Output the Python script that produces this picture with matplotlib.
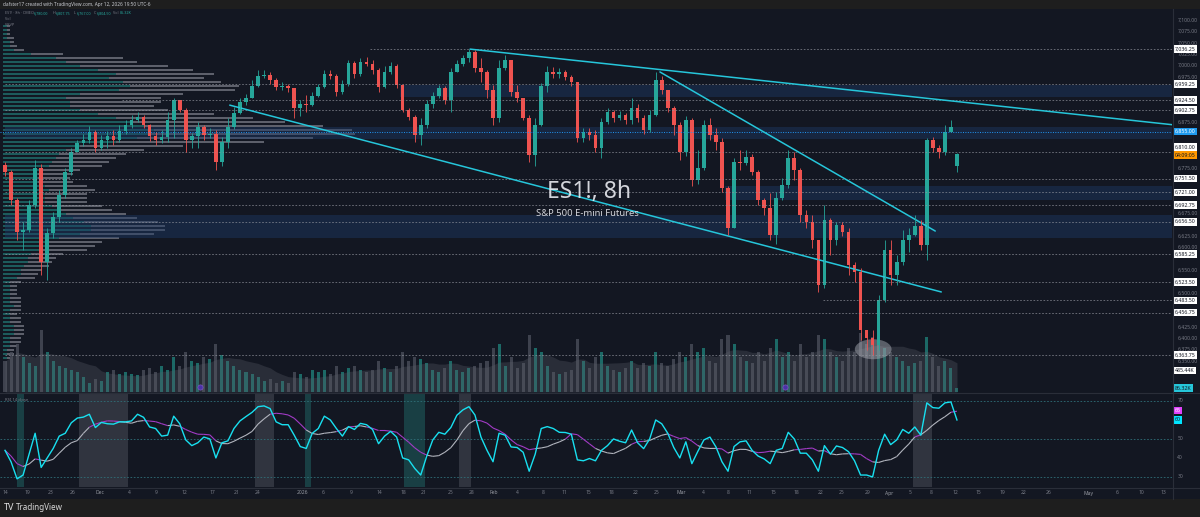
import numpy as np
import matplotlib.pyplot as plt
import pandas as pd
from matplotlib.patches import Ellipse
from matplotlib.collections import LineCollection
from matplotlib import transforms

plt.rcParams['font.family'] = ['Noto Sans', 'DejaVu Sans']

# ---------------- data (ES1!, 8h bars, 2 bars per candle) ----------------
first_open = 6781
last_open = 6780.00

close = [6766, 6704, 6634, 6638, 6693, 6775, 6568, 6632, 6667, 6715,
         6766, 6810, 6830, 6836, 6854, 6819, 6836, 6845, 6836, 6856,
         6869, 6880, 6887, 6869, 6845, 6836, 6843, 6880, 6924, 6902,
         6836, 6845, 6865, 6847, 6849, 6788, 6832, 6865, 6896, 6920,
         6929, 6955, 6977, 6979, 6968, 6953, 6955, 6951, 6907, 6915,
         6913, 6933, 6953, 6981, 6977, 6942, 6959, 7006, 6981, 7008,
         7004, 6990, 6953, 6986, 6999, 6957, 6902, 6887, 6847, 6869,
         6915, 6933, 6951, 6924, 6986, 7003, 7017, 7030, 6995, 6986,
         6946, 6885, 6995, 7012, 6942, 6929, 6885, 6803, 6869, 6955,
         6986, 6981, 6986, 6975, 6964, 6841, 6854, 6847, 6819, 6876,
         6898, 6885, 6891, 6880, 6907, 6885, 6858, 6891, 6968, 6946,
         6907, 6869, 6810, 6880, 6748, 6775, 6869, 6847, 6832, 6731,
         6643, 6788, 6786, 6799, 6766, 6704, 6687, 6627, 6709, 6737,
         6797, 6770, 6671, 6656, 6616, 6517, 6660, 6616, 6649, 6634,
         6561, 6546, 6418, 6401, 6385, 6484, 6594, 6539, 6568, 6616,
         6627, 6647, 6605, 6836, 6819, 6810, 6854, 6865, 6804.50]

high = [6788, 6770, 6709, 6656, 6704, 6792, 6783, 6643, 6678, 6726,
        6775, 6819, 6836, 6849, 6867, 6858, 6847, 6856, 6858, 6869,
        6880, 6891, 6898, 6891, 6871, 6854, 6858, 6898, 6929, 6924,
        6907, 6852, 6876, 6869, 6863, 6858, 6843, 6885, 6909, 6929,
        6937, 6968, 6990, 6990, 6986, 6973, 6964, 6959, 6951, 6924,
        6935, 6942, 6959, 6990, 6990, 6981, 6968, 7012, 7010, 7017,
        7019, 7012, 6995, 6999, 7008, 7003, 6960, 6907, 6891, 6885,
        6924, 6942, 6957, 6955, 6995, 7012, 7023, 7036.25, 7034, 7017,
        6990, 6957, 7012, 7023, 7012, 6957, 6929, 6891, 6885, 6962,
        6999, 6997, 6995, 6990, 6979, 6964, 6863, 6863, 6858, 6885,
        6907, 6902, 6900, 6896, 6929, 6915, 6891, 6902, 6986, 6977,
        6946, 6911, 6876, 6889, 6885, 6814, 6880, 6885, 6863, 6841,
        6735, 6797, 6814, 6814, 6805, 6770, 6709, 6720, 6722, 6753,
        6814, 6810, 6775, 6682, 6671, 6616, 6693, 6665, 6656, 6656,
        6643, 6568, 6555, 6418, 6418, 6495, 6616, 6616, 6583, 6638,
        6643, 6671, 6660, 6841, 6843, 6825, 6869, 6880, 6807.75]

low = [6757, 6693, 6616, 6594, 6634, 6687, 6539, 6528, 6621, 6656,
       6709, 6759, 6810, 6823, 6830, 6810, 6814, 6819, 6825, 6832,
       6849, 6863, 6876, 6863, 6834, 6825, 6830, 6832, 6841, 6898,
       6810, 6819, 6819, 6836, 6841, 6770, 6779, 6819, 6860, 6893,
       6913, 6929, 6952, 6973, 6959, 6946, 6946, 6942, 6885, 6889,
       6898, 6911, 6930, 6951, 6970, 6933, 6937, 6955, 6973, 6977,
       6999, 6981, 6942, 6950, 6981, 6951, 6898, 6880, 6832, 6825,
       6863, 6907, 6929, 6915, 6898, 6986, 6999, 7008, 6986, 6964,
       6929, 6869, 6876, 6990, 6933, 6920, 6880, 6788, 6779, 6867,
       6942, 6973, 6973, 6968, 6955, 6832, 6832, 6836, 6810, 6797,
       6871, 6876, 6880, 6871, 6871, 6876, 6849, 6854, 6889, 6937,
       6898, 6847, 6792, 6801, 6735, 6739, 6770, 6836, 6814, 6722,
       6627, 6643, 6770, 6781, 6759, 6693, 6671, 6616, 6607, 6705,
       6730, 6748, 6656, 6643, 6599, 6502, 6510, 6583, 6605, 6625,
       6539, 6524, 6396, 6374, 6363.75, 6374, 6480, 6517, 6517, 6561,
       6590, 6625, 6594, 6572, 6810, 6797, 6803, 6854, 6767.00]

volume_k = [700, 900, 1100, 800, 650, 600, 1400, 900, 700, 600,
            550, 500, 450, 350, 200, 300, 250, 450, 500, 400,
            450, 400, 380, 500, 550, 450, 600, 500, 800, 600,
            900, 700, 650, 800, 750, 1100, 850, 700, 600, 500,
            450, 400, 350, 250, 300, 200, 250, 200, 450, 400,
            350, 500, 450, 500, 400, 600, 450, 550, 600, 500,
            450, 500, 700, 550, 450, 600, 900, 700, 800, 750,
            650, 500, 450, 550, 700, 500, 450, 550, 600, 650,
            700, 1000, 1100, 600, 800, 550, 650, 1300, 1000, 900,
            600, 450, 400, 450, 500, 1200, 700, 550, 800, 900,
            600, 500, 450, 550, 700, 550, 650, 600, 900, 650,
            600, 750, 900, 800, 1100, 900, 1000, 700, 650, 1200,
            1300, 1100, 800, 700, 650, 900, 700, 1000, 1200, 800,
            900, 700, 1100, 800, 900, 1300, 1200, 900, 800, 700,
            1000, 900, 1350, 1100, 1250, 1400, 1000, 900, 800, 700,
            600, 650, 700, 1250, 800, 600, 700, 550, 86.32]
vol_ma_last = 485.44

rsi = [44, 38, 29, 31, 42, 53, 35, 40, 45, 51.5,
       53, 58.5, 61, 61.5, 63, 56, 58.7, 58, 57.8, 59,
       59, 59.5, 63, 61.4, 56.3, 55.5, 51.5, 52, 62, 58,
       49.5, 46.5, 48, 51, 50, 40, 48, 49, 55.5, 59.5,
       61.8, 64, 67, 67.4, 66, 59, 57.5, 57.5, 52, 46,
       45, 53, 55.5, 62, 60, 55.5, 51.5, 56.5, 55, 58.2,
       57.5, 55, 47.5, 51.5, 54, 51, 40, 39, 34.5, 31,
       41, 49.5, 53.5, 52.5, 56, 62.5, 65.3, 67, 62.6, 51,
       44, 38, 53, 52, 45.8, 45.5, 43, 33, 42, 55.5,
       56.5, 55.5, 53.5, 53.4, 52.5, 39, 38.5, 39.7, 38.5, 44,
       46.5, 50, 48.8, 48, 54.7, 48, 44.9, 50, 60, 58,
       53, 45.5, 40, 48.5, 37, 43.5, 49.5, 51, 45.8, 38,
       33, 46, 48.5, 49, 44, 41, 39.5, 37, 44, 45,
       53.5, 50, 42.5, 42.5, 39, 33, 46.5, 42, 46.3, 45.5,
       43.3, 38.5, 31, 31, 30, 44, 52.5, 47, 49.5, 55,
       53, 56.3, 52, 69, 66.5, 66.2, 69, 69.5, 60]
rsi_ma_last = 65

# visible-range volume profile, rows from the top price down
profile_top = 7087
profile_step = 8.8
profile_vol = [2, 2, 2, 3, 3, 4, 6, 17, 34, 38,
               47, 54, 60, 57, 62, 67, 66, 51, 45, 45,
               43, 47, 60, 71, 80, 91, 99, 100, 88, 74,
               51, 40, 35, 32, 30, 28, 22, 20, 19, 20,
               24, 26, 24, 24, 24, 28, 31, 35, 38, 44,
               46, 46, 43, 33, 28, 26, 24, 17, 15, 14,
               13, 11, 10, 9, 5, 4, 4, 4, 5, 5,
               5, 5, 4, 5, 5, 6, 6, 6, 5, 5,
               4, 3, 3, 2]
profile_up = [1, 1, 1, 1, 2, 2, 3, 8, 15, 18,
              22, 27, 32, 30, 34, 36, 33, 22, 18, 19,
              19, 22, 27, 32, 36, 40, 43, 42, 38, 32,
              22, 18, 16, 15, 14, 13, 11, 10, 10, 10,
              12, 13, 12, 12, 12, 14, 16, 18, 20, 23,
              25, 25, 22, 16, 13, 12, 11, 8, 7, 7,
              6, 5, 5, 4, 2, 2, 2, 2, 2, 2,
              3, 2, 2, 2, 2, 3, 3, 3, 2, 2,
              2, 1, 1, 1]

# horizontal levels drawn on the chart (price, first bar)
levels = [7036.25, 6959.25, 6924.50, 6902.75, 6810.00, 6751.50, 6721.00,
          6692.75, 6656.50, 6585.25, 6523.50, 6483.50, 6456.75, 6363.75]
level_from = [60.6, 0, 19.4, 0, 0, 0, 0, 0, 0, 0, 0, 135.8, 0, 0]
poc_price = 6855.00
zones = [(6931, 6957, 65.6), (6838, 6865, 0), (6704, 6735, 119.5), (6621, 6671, 0)]

# trendlines: (bar, price) anchors
trendlines = [((77.2, 7036.25), (193.7, 6870)),
              ((37.3, 6913), (155.4, 6502)),
              ((108.7, 6986), (154.4, 6636))]

rsi_gray_bands = [(12.3, 20.4), (41.5, 44.6), (75.4, 77.3), (150.7, 153.9)]
rsi_teal_bands = [(2.0, 3.2), (49.8, 50.8), (66.2, 69.7)]

time_labels = ['14', '19', '23', '26', 'Dec', '4', '9', '12', '17', '21', '24', '2026',
               '6', '9', '14', '18', '21', '25', '28', 'Feb', '4', '8', '11', '15',
               '18', '22', '25', 'Mar', '4', '8', '11', '15', '18', '22', '25', '29',
               'Apr', '5', '8', '12', '15', '19', '22', '26', 'May', '6', '10', '13']
time_pos = [0, 3.65, 7.6, 11.3, 15.8, 20.6, 25.1, 29.7, 34.5, 38.5, 42, 49.3,
            52.8, 57.4, 62.1, 66.2, 69.5, 73.9, 77.4, 81.2, 85, 89.3, 92.8, 96.9,
            100.6, 104.6, 108.2, 112.2, 115.9, 120, 123.5, 127.6, 131.3, 135.3, 138.9, 143.1,
            146.7, 150.2, 153.7, 157.8, 161.5, 165.6, 169.1, 173.3, 179.9, 184.6, 188.6, 192.2]

df = pd.DataFrame({'close': close, 'high': high, 'low': low, 'vol': volume_k, 'rsi': rsi})
df['open'] = [first_open] + close[:-1]
df.loc[len(df) - 1, 'open'] = last_open
idx = np.arange(len(df))
vol_ma = df['vol'].rolling(10, min_periods=1).mean()
rsi_ma = df['rsi'].rolling(7, min_periods=1).mean()

# ---------------- layout ----------------
W, H = 1200, 517
BG = '#131722'
UP, DN = '#26a69a', '#ef5350'
CYAN = '#26c6da'


def px_rect(x0, y0, x1, y1):
    return [x0 / W, 1 - y1 / H, (x1 - x0) / W, (y1 - y0) / H]


fig = plt.figure(figsize=(W / 100, H / 100), dpi=100, facecolor='#1e1e1e')
ax_bg = fig.add_axes(px_rect(0, 9, 1200, 499))
ax_bg.set_axis_off()
ax_bg.add_patch(plt.Rectangle((0, 0), 1, 1, transform=ax_bg.transAxes, color=BG))

XL = (-5 / 6.025, 1167 / 6.025)
YL = (6281.9, 7126.7)

ax_prof = fig.add_axes(px_rect(0, 8, 1172, 392))
ax_vol = fig.add_axes(px_rect(0, 8, 1172, 392))
ax = fig.add_axes(px_rect(0, 8, 1172, 392))
ax_rsi = fig.add_axes(px_rect(0, 393, 1172, 487))
for a in (ax_prof, ax_vol, ax, ax_rsi):
    a.set_facecolor('none')
    a.set_axis_off()
for a in (ax_vol, ax, ax_rsi):
    a.set_xlim(*XL)
ax.set_ylim(*YL)
ax_prof.set_ylim(*YL)
ax_prof.set_xlim(-0.85, 332)
ax_vol.set_ylim(0, 8730)
ax_rsi.set_ylim(24.7, 74.2)

# ---------------- volume profile + zones ----------------
prof_price = profile_top - profile_step * np.arange(len(profile_vol))
pv = np.array(profile_vol)
pu = np.array(profile_up)
ax_prof.barh(prof_price, pu, height=profile_step * 0.62, color='#1d5b5c', linewidth=0)
ax_prof.barh(prof_price, pv - pu, left=pu, height=profile_step * 0.62, color='#5d606b', linewidth=0)

for lo, hi, start in zones:
    ax.fill_between([start, XL[1]], lo, hi, color='#1e3a66', alpha=0.45, linewidth=0, zorder=0)

# ---------------- volume ----------------
up = df['close'] >= df['open']
ax_vol.bar(idx, df['vol'], width=0.5, color=np.where(up, '#1f7f78', '#4a4e5a'), alpha=0.8, linewidth=0)
ax_vol.fill_between(idx, vol_ma, color='#5d606b', alpha=0.3, linewidth=0)
ax_vol.scatter([32.4, 129.5], [120, 120], s=14, color='#4a32a8', edgecolor='#7e57c2', linewidth=0.5, zorder=3)

# ---------------- levels and drawings ----------------
for lvl, start in zip(levels, level_from):
    ax.hlines(lvl, start, XL[1], colors='#9598a1', linestyles=(0, (2, 2)), linewidth=0.6, alpha=0.75)
ax.hlines(poc_price, XL[0], XL[1], colors='#2196f3', linestyles=(0, (1, 1.5)), linewidth=0.7)

for (x0, y0), (x1, y1) in trendlines:
    ax.plot([x0, x1], [y0, y1], color=CYAN, linewidth=1.1, solid_capstyle='round')

ax.add_patch(Ellipse((144.1, 6376), 6.1, 44, color='#b2b5be', alpha=0.45, linewidth=0))

# ---------------- candles ----------------
col = np.where(up, UP, DN)
ax.vlines(idx, df['low'], df['high'], colors=col, linewidth=0.6)
body_lo = np.minimum(df['open'], df['close'])
body_h = np.maximum((df['close'] - df['open']).abs(), 1.5)
ax.bar(idx, body_h, bottom=body_lo, width=0.6, color=col, linewidth=0)

ax.text(0.5026, 0.521, 'ES1!, 8h', transform=ax.transAxes, ha='center', va='center',
        fontsize=16.5, color='#e8eaf0', alpha=0.9)
ax.text(0.501, 0.466, 'S&P 500 E-mini Futures', transform=ax.transAxes, ha='center', va='center',
        fontsize=6.8, color='#e8eaf0', alpha=0.9)

# ---------------- price axis labels ----------------
tr = transforms.blended_transform_factory(ax.transAxes, ax.transData)
box_prices = levels + [poc_price, 6795]
for t in np.arange(6350, 7125, 25):
    if min(abs(t - b) for b in box_prices) > 11:
        ax.text(1.0045, t, f'{t:,.2f}', transform=tr, fontsize=3.6, color='#787b86',
                va='center', ha='left', clip_on=False)


def axis_box(a, trans, y, text, fc, tc='#131722', dy=0):
    a.annotate(text, (1.0025, y), xycoords=trans, xytext=(0, dy), textcoords='offset points',
               fontsize=3.8, color=tc, va='center', ha='left', annotation_clip=False,
               bbox=dict(boxstyle='square,pad=0.25', fc=fc, ec='none'))


for lvl in levels:
    axis_box(ax, tr, lvl, f'{lvl:,.2f}', '#ffffff', dy=3.5 if lvl == 6810.00 else 0)
axis_box(ax, tr, 6810.00, '04:09:05', '#ff9800', dy=-2.4)
axis_box(ax, tr, poc_price, f'{poc_price:,.2f}', '#1e9bf0', tc='#ffffff')

trv = transforms.blended_transform_factory(ax_vol.transAxes, ax_vol.transData)
axis_box(ax_vol, trv, vol_ma_last, f'{vol_ma_last:.2f}K', '#ffffff')
axis_box(ax_vol, trv, df['vol'].iloc[-1], f"{df['vol'].iloc[-1]:.2f}K", CYAN)

# ---------------- RSI pane ----------------
for a0, a1 in rsi_gray_bands:
    ax_rsi.axvspan(a0, a1, color='#3a3e4a', alpha=0.75, linewidth=0)
for a0, a1 in rsi_teal_bands:
    ax_rsi.axvspan(a0, a1, color='#1b4a4d', alpha=0.8, linewidth=0)
for lv in (70, 50, 30):
    ax_rsi.axhline(lv, color='#2f6f78', linestyle=(0, (2, 2)), linewidth=0.6)

pts = np.column_stack([idx, rsi_ma.values])
segs = np.stack([pts[:-1], pts[1:]], axis=1)
seg_col = np.where(df['rsi'].values[1:] >= rsi_ma.values[1:], '#b2b5be', '#a23bc6')
ax_rsi.add_collection(LineCollection(segs, colors=seg_col, linewidths=0.8))
ax_rsi.plot(idx, df['rsi'], color='#18e0f0', linewidth=1.0)

trr = transforms.blended_transform_factory(ax_rsi.transAxes, ax_rsi.transData)
for lv in (70, 50, 40, 30):
    ax_rsi.text(1.0045, lv, str(lv), transform=trr, fontsize=3.6, color='#787b86',
                va='center', ha='left', clip_on=False)
axis_box(ax_rsi, trr, rsi_ma_last, f'{rsi_ma_last}', '#e040fb', tc='#ffffff')
axis_box(ax_rsi, trr, df['rsi'].iloc[-1], f"{df['rsi'].iloc[-1]:.0f}", '#00e5ff')
ax_rsi.text(0.004, 0.93, 'RSI 14 close', transform=ax_rsi.transAxes, fontsize=3.0,
            color='#787b86', va='center')

# time axis
trt = transforms.blended_transform_factory(ax_rsi.transData, ax_rsi.transAxes)
for lab, pos in zip(time_labels, time_pos):
    bold = lab in ('Dec', '2026', 'Feb', 'Mar', 'Apr', 'May')
    ax_rsi.text(pos, -6 / 94, lab, transform=trt, fontsize=3.6, ha='center', va='center',
                color='#9598a1' if bold else '#787b86', clip_on=False)

# separators
for y in (392.5, 487.5):
    fig.add_artist(plt.Line2D([0, 1], [1 - y / H] * 2, transform=fig.transFigure,
                              color='#2a2e39', linewidth=0.8))
fig.add_artist(plt.Line2D([1173 / W] * 2, [1 - 499 / H, 1 - 9 / H], transform=fig.transFigure,
                          color='#2a2e39', linewidth=0.8))

# ---------------- header, legend, footer ----------------
fig.text(3 / W, 1 - 4.5 / H, 'dafster17 created with TradingView.com, Apr 12, 2026 19:50 UTC-6',
         fontsize=3.4, color='#c8cad0', va='center')
legend = [('ES1! · 8h · CME', 5, '#787b86'), ('O', 31, '#787b86'), (f'{last_open:,.2f}', 34, UP),
          ('H', 53, '#787b86'), (f'{high[-1]:,.2f}', 56, UP), ('L', 74, '#787b86'),
          (f'{low[-1]:,.2f}', 77, UP), ('C', 94, '#787b86'), (f'{close[-1]:,.2f}', 97, UP),
          ('Vol', 113, '#787b86'), (f'{volume_k[-1]:.2f}K', 119.5, UP)]
for txt, x, c in legend:
    fig.text(x / W, 1 - 13.5 / H, txt, fontsize=2.7, color=c, va='center')
fig.text(5 / W, 1 - 19.5 / H, 'Vol', fontsize=2.7, color='#787b86', va='center')
fig.text(5 / W, 1 - 25 / H, 'VRVP', fontsize=2.7, color='#787b86', va='center')

fig.text(4 / W, 1 - 508 / H, 'TV', fontsize=6.5, fontweight='bold', color='#e0e0e0', va='center')
fig.text(16 / W, 1 - 508 / H, 'TradingView', fontsize=5.8, color='#d8d8d8', va='center')

plt.savefig('out.png', dpi=100, facecolor=fig.get_facecolor())
